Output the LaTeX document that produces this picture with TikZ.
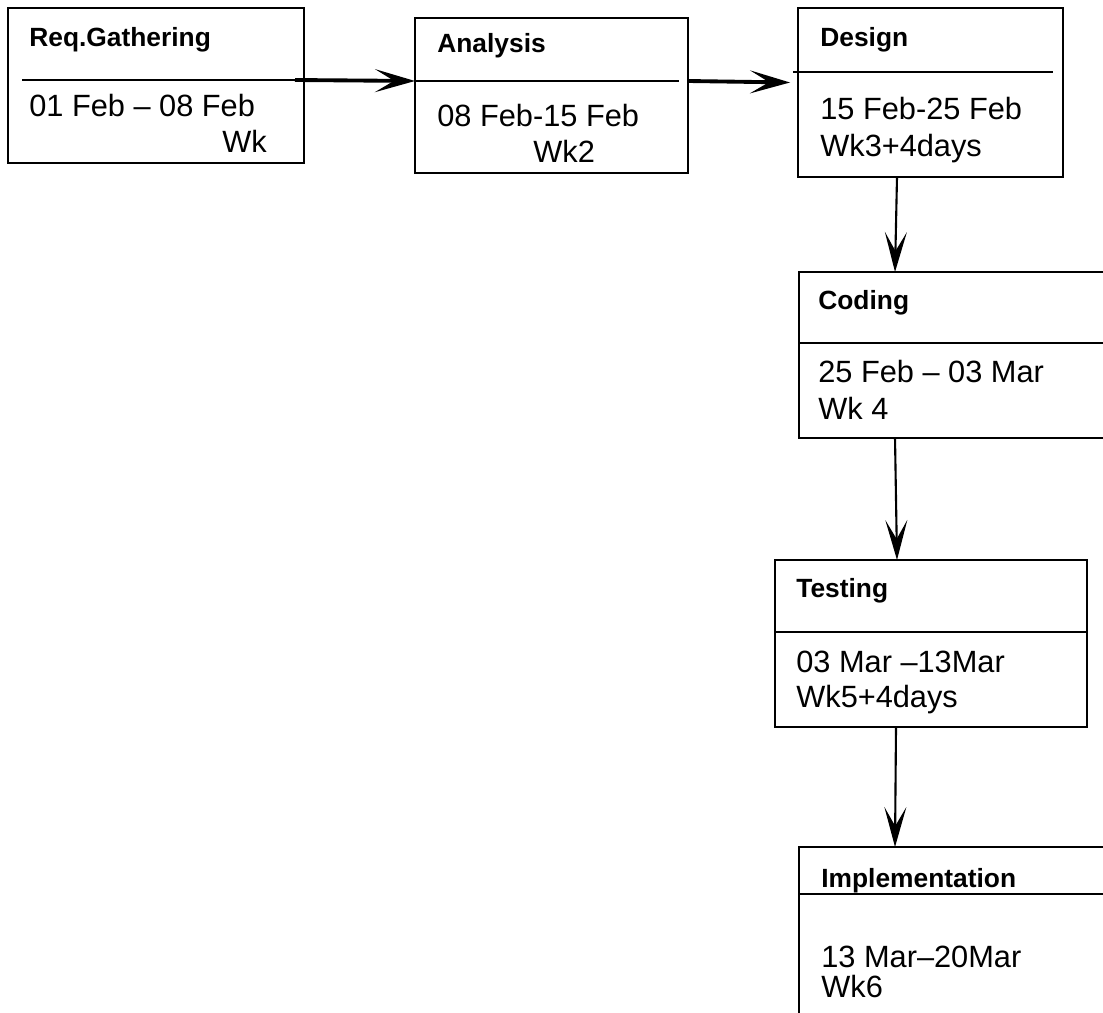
\documentclass[tikz,border=0pt]{standalone}
\usepackage{fontspec}
\setmainfont{Liberation Sans}
\usepackage{tikz}
\usetikzlibrary{arrows.meta, positioning, calc}
\definecolor{mydark}{RGB}{0,0,0}
\tikzset{
  phase/.style={rectangle, draw=mydark, line width=1.1pt,
    inner sep=0pt, outer sep=0pt},
  sepline/.style={line width=1.1pt, color=mydark},
  hdr/.style={anchor=base west, inner sep=0pt,
    font=\fontsize{15}{18}\selectfont\bfseries},
  body/.style={anchor=base west, inner sep=0pt,
    font=\fontsize{17.5}{21}\selectfont},
  bigarrow/.style={-{Stealth[length=0.8cm, width=0.46cm, inset=0.38cm]},
    line width=2.2pt, color=mydark},
  arrow/.style={-{Stealth[length=0.8cm, width=0.44cm, inset=0.38cm]},
    line width=1.2pt, color=mydark}
}

\begin{document}
\begin{tikzpicture}[x=0.02cm, y=-0.02cm]
  \useasboundingbox (0,0) rectangle (1103,1013);
  \clip (0,0) rectangle (1103,1013);

  % phase boxes
  \node[phase, minimum width=5.92cm, minimum height=3.10cm] (req) at (156,85.5) {};
  \node[phase, minimum width=5.46cm, minimum height=3.10cm] (ana) at (551.5,95.5) {};
  \node[phase, minimum width=5.30cm, minimum height=3.38cm] (des) at (930.5,92.5) {};
  \node[phase, minimum width=6.52cm, minimum height=3.32cm] (cod) at (962,355) {};
  \node[phase, minimum width=6.24cm, minimum height=3.34cm] (tes) at (931,643.5) {};
  \node[phase, minimum width=6.52cm, minimum height=3.86cm] (imp) at (962,943.5) {};

  % separators
  \coordinate (req-sl) at (22,80);   \coordinate (req-sr) at (295,80);
  \coordinate (ana-sl) at (415,81);  \coordinate (ana-sr) at (679,81);
  \coordinate (des-sl) at (793,72);  \coordinate (des-sr) at (1053,72);
  \draw[sepline] (req-sl) -- (req-sr);
  \draw[sepline] (ana-sl) -- (ana-sr);
  \draw[sepline] (des-sl) -- (des-sr);
  \draw[sepline] (cod.west |- 0,343) -- (cod.east |- 0,343);
  \draw[sepline] (tes.west |- 0,632) -- (tes.east |- 0,632);
  \draw[sepline] (imp.west |- 0,894) -- (imp.east |- 0,894);

  % labels
  \node[hdr] (req-h) at (29,47) {Req.Gathering};
  \node[body] (req-d) at (29,117) {01 Feb -- 08 Feb};
  \node[body] (req-w) at (222,153) {Wk};

  \node[hdr] (ana-h) at (437,53) {Analysis};
  \node[body] (ana-d) at (437,127) {08 Feb-15 Feb};
  \node[body] (ana-w) at (533,163) {Wk2};

  \node[hdr] (des-h) at (820,47) {Design};
  \node[body] (des-d) at (820,120) {15 Feb-25 Feb};
  \node[body] (des-w) at (820,157) {Wk3+4days};

  \node[hdr] (cod-h) at (818,310) {Coding};
  \node[body] (cod-d) at (818,383) {25 Feb -- 03 Mar};
  \node[body] (cod-w) at (818,420) {Wk 4};

  \node[hdr] (tes-h) at (796,598) {Testing};
  \node[body] (tes-d) at (796,672) {03 Mar --13Mar};
  \node[body] (tes-w) at (796,707) {Wk5+4days};

  \node[hdr] (imp-h) at (821,887) {Implementation};
  \node[body] (imp-d) at (821,967) {13 Mar--20Mar};
  \node[body] (imp-w) at (821,997) {Wk6};

  % flow
  \draw[bigarrow] (req-sr) -- (ana-sl);
  \draw[bigarrow] (ana.east |- ana-sr) -- ([xshift=-0.16cm, yshift=0.2cm]des.west);
  \draw[arrow] ([xshift=-0.67cm]des.south) -- ([xshift=-1.34cm]cod.north);
  \draw[arrow] ([xshift=-1.34cm]cod.south) -- ([xshift=-0.68cm]tes.north);
  \draw[arrow] ([xshift=-0.70cm]tes.south) -- ([xshift=-1.34cm]imp.north);
\end{tikzpicture}
\end{document}
